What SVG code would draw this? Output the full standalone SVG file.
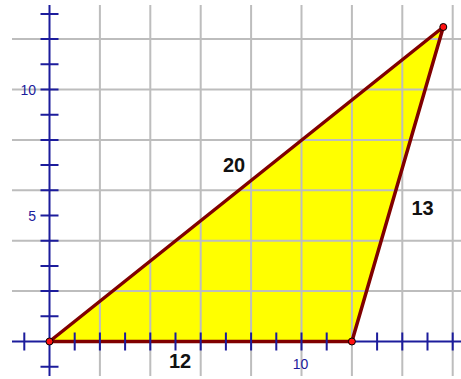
<svg xmlns="http://www.w3.org/2000/svg" width="461" height="379" viewBox="0 0 461 379">
<style>
.grid{stroke:#bdbdbd;stroke-width:2;fill:none}
.axis{stroke:#1c1c9c;stroke-width:2;fill:none}
.al{font-family:"Liberation Sans",Arial,sans-serif;font-size:14px;fill:#1c1c9c}
.sl{font-family:"Liberation Sans",Arial,sans-serif;font-size:20px;font-weight:bold;fill:#111;text-anchor:middle}
.pt{fill:#ff1010;stroke:#000;stroke-width:1}
</style>
<rect width="461" height="379" fill="#fff"/>
<polygon id="triangle-fill" points="49.5,341.5 351.9,341.5 443.3,27" fill="#ffff00"/>
<g id="grid" class="grid">
<path d="M99.9 5V376M150.3 5V376M200.7 5V376M251.1 5V376M301.5 5V376M351.9 5V376M402.3 5V376M452.7 5V376"/>
<path d="M12 39.1H461M12 89.5H461M12 139.9H461M12 190.3H461M12 240.7H461M12 291.1H461"/>
</g>
<g id="axes" class="axis">
<path d="M12 341.5H461M49.5 5V376"/>
</g>
<g id="triangle">
<polygon points="49.5,341.5 351.9,341.5 443.3,27" fill="none" stroke="#800000" stroke-width="3.5" stroke-linejoin="round"/>
</g>
<g id="ticks" class="axis">
<path d="M24.3 332.5v18M74.7 332.5v18M99.9 332.5v18M125.1 332.5v18M150.3 332.5v18M175.5 332.5v18M200.7 332.5v18M225.9 332.5v18M251.1 332.5v18M276.3 332.5v18M301.5 332.5v18M326.7 332.5v18M377.1 332.5v18M402.3 332.5v18M427.5 332.5v18M452.7 332.5v18"/>
<path d="M40.5 366.7h18M40.5 316.3h18M40.5 291.1h18M40.5 265.9h18M40.5 240.7h18M40.5 215.5h18M40.5 190.3h18M40.5 165.1h18M40.5 139.9h18M40.5 114.7h18M40.5 89.5h18M40.5 64.3h18M40.5 39.1h18M40.5 13.9h18"/>
</g>
<g id="axis-labels">
<text class="al" x="36" y="95" text-anchor="end">10</text>
<text class="al" x="36" y="220.5" text-anchor="end">5</text>
<text class="al" x="300.5" y="368.5" text-anchor="middle">10</text>
</g>
<g id="vertices">
<circle class="pt" cx="49.5" cy="341.5" r="3.5"/>
<circle class="pt" cx="351.9" cy="341.5" r="3.5"/>
<circle class="pt" cx="443.3" cy="27" r="3.5"/>
</g>
<g id="side-labels">
<text class="sl" x="234" y="171.5">20</text>
<text class="sl" x="422.5" y="215">13</text>
<text class="sl" x="180" y="368">12</text>
</g>
</svg>
